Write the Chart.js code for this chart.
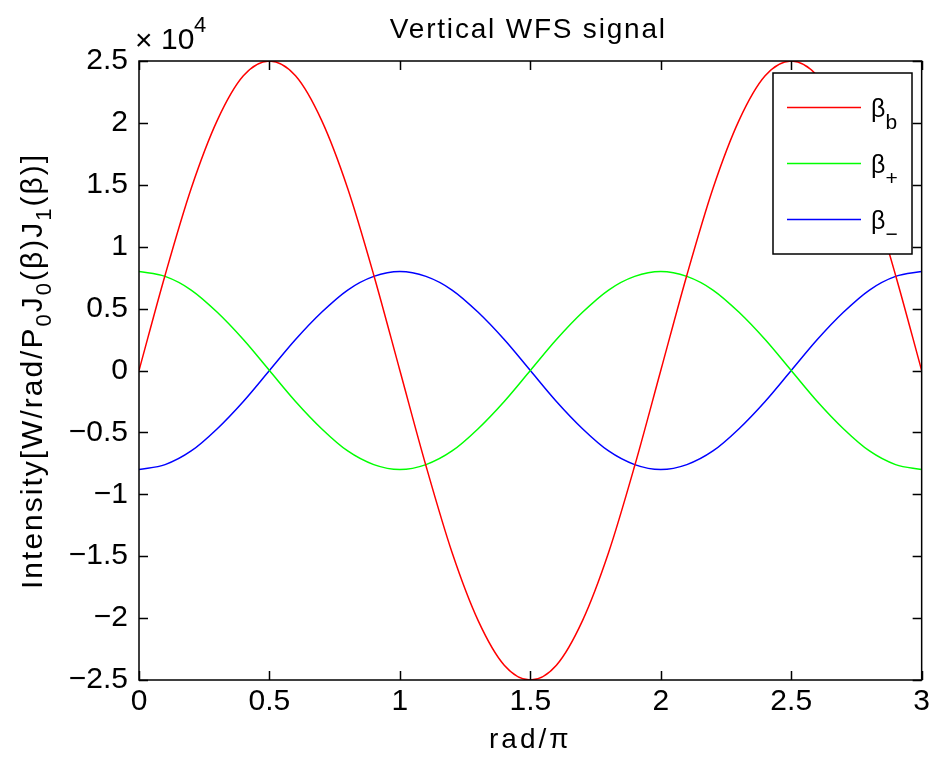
<!DOCTYPE html>
<html>
<head>
<meta charset="utf-8">
<script src="https://cdn.jsdelivr.net/npm/chart.js@4.4.0/dist/chart.umd.min.js"></script>
<style>
html, body { margin: 0; padding: 0; background: #fff; }
</style>
</head>
<body>
<canvas id="c" width="934" height="763"></canvas>
<script>
// x positions (rad/pi)
const xPos = [0, 0.1, 0.2, 0.3, 0.4, 0.5, 0.6, 0.7, 0.8, 0.9,
    1, 1.1, 1.2, 1.3, 1.4, 1.5, 1.6, 1.7, 1.8, 1.9,
    2, 2.1, 2.2, 2.3, 2.4, 2.5, 2.6, 2.7, 2.8, 2.9, 3]

// beta_b (red)
const betaB = [0, 7700, 14700, 20200, 23800, 25000, 23800, 20200, 14700, 7700,
    0, -7700, -14700, -20200, -23800, -25000, -23800, -20200, -14700, -7700,
    0, 7700, 14700, 20200, 23800, 25000, 23800, 20200, 14700, 7700, 0]

// beta_+ (green)
const betaPlus = [8000, 7600, 6500, 4700, 2500, 0, -2500, -4700, -6500, -7600,
    -8000, -7600, -6500, -4700, -2500, 0, 2500, 4700, 6500, 7600,
    8000, 7600, 6500, 4700, 2500, 0, -2500, -4700, -6500, -7600, -8000]

// beta_- (blue)
const betaMinus = [-8000, -7600, -6500, -4700, -2500, 0, 2500, 4700, 6500, 7600,
    8000, 7600, 6500, 4700, 2500, 0, -2500, -4700, -6500, -7600,
    -8000, -7600, -6500, -4700, -2500, 0, 2500, 4700, 6500, 7600, 8000]

const seriesNames = ['β_b', 'β_+', 'β_−']
const seriesColors = ['#ff0000', '#00ff00', '#0000ff']
const xTicks = [0, 0.5, 1, 1.5, 2, 2.5, 3]
const yTicks = [-25000, -20000, -15000, -10000, -5000, 0, 5000, 10000, 15000, 20000, 25000]

const FONT = '"Liberation Sans", Arial, sans-serif'

// draw text made of [text, isSub] parts, starting at x
function drawParts(ctx, parts, x, y, size, subSize, subDy, spacing) {
    let cx = x
    parts.forEach(p => {
        ctx.font = (p[1] ? subSize : size) + 'px ' + FONT
        ctx.letterSpacing = spacing + 'px'
        ctx.fillText(p[0], cx, p[1] ? y + subDy : y)
        cx += ctx.measureText(p[0]).width
    })
    return cx - x
}
function measureParts(ctx, parts, size, subSize, spacing) {
    let w = 0
    parts.forEach(p => {
        ctx.font = (p[1] ? subSize : size) + 'px ' + FONT
        ctx.letterSpacing = spacing + 'px'
        w += ctx.measureText(p[0]).width
    })
    return w
}

const matlabFrame = {
    id: 'matlabFrame',
    afterDatasetsDraw(chart) {
        const ctx = chart.ctx, a = chart.chartArea
        const xs = chart.scales.x, ys = chart.scales.y
        ctx.save()
        ctx.strokeStyle = '#000'
        ctx.lineWidth = 1.5
        ctx.beginPath()
        xs.ticks.forEach(t => {
            const px = Math.round(xs.getPixelForValue(t.value)) + 0.5
            ctx.moveTo(px, a.bottom); ctx.lineTo(px, a.bottom - 9)
            ctx.moveTo(px, a.top); ctx.lineTo(px, a.top + 9)
        })
        ys.ticks.forEach(t => {
            const py = Math.round(ys.getPixelForValue(t.value)) + 0.5
            ctx.moveTo(a.left, py); ctx.lineTo(a.left + 9, py)
            ctx.moveTo(a.right, py); ctx.lineTo(a.right - 9, py)
        })
        ctx.stroke()
        ctx.strokeRect(a.left, a.top, a.right - a.left, a.bottom - a.top)
        ctx.restore()
    },
    afterDraw(chart) {
        const ctx = chart.ctx, a = chart.chartArea
        ctx.save()
        ctx.fillStyle = '#000'
        ctx.textBaseline = 'alphabetic'

        // title
        ctx.font = '28px ' + FONT
        ctx.letterSpacing = '1.8px'
        ctx.textAlign = 'center'
        ctx.fillText('Vertical WFS signal', (a.left + a.right) / 2 - 2, 38)

        // x axis title
        ctx.font = '28px ' + FONT
        ctx.letterSpacing = '3px'
        ctx.fillText('rad/π', (a.left + a.right) / 2, 748)

        // exponent
        ctx.textAlign = 'left'
        ctx.letterSpacing = '0px'
        ctx.font = '30px ' + FONT
        ctx.fillText('×', 135, 50)
        ctx.fillText('10', 161, 49)
        ctx.font = '22px ' + FONT
        ctx.fillText('4', 194, 32)

        // y axis title
        const yParts = [['Intensity[W/rad/P', 0], ['0', 1], ['J', 0], ['0', 1], ['(β)J', 0], ['1', 1], ['(β)]', 0]]
        ctx.translate(42, 371)
        ctx.rotate(-Math.PI / 2)
        const w = measureParts(ctx, yParts, 30, 22, 2)
        drawParts(ctx, yParts, -w / 2, 0, 30, 22, 9, 2)
        ctx.setTransform(1, 0, 0, 1, 0, 0)

        // legend box
        const lx = 773, ly = 73, lw = 139, lh = 181
        ctx.fillStyle = '#fff'
        ctx.fillRect(lx, ly, lw, lh)
        ctx.strokeStyle = '#000'
        ctx.lineWidth = 1.5
        ctx.strokeRect(lx, ly, lw, lh)
        chart.data.datasets.forEach((ds, i) => {
            const y = 107 + i * 56
            ctx.strokeStyle = ds.borderColor
            ctx.lineWidth = 1.5
            ctx.beginPath()
            ctx.moveTo(787, y + 0.5); ctx.lineTo(861, y + 0.5)
            ctx.stroke()
            const [base, sub] = ds.label.split('_')
            ctx.fillStyle = '#000'
            drawParts(ctx, [[base, 0], [sub, 1]], 871, y + 10, 25, 21, 12, 0)
        })
        ctx.restore()
    }
}

const datasets = [betaB, betaPlus, betaMinus].map((vals, i) => ({
    label: seriesNames[i],
    data: xPos.map((x, j) => ({x: x, y: vals[j]})),
    borderColor: seriesColors[i],
    borderWidth: 1.5,
    pointRadius: 0,
    fill: false,
    cubicInterpolationMode: 'monotone'
}))

new Chart(document.getElementById('c'), {
    type: 'line',
    data: {datasets: datasets},
    options: {
        responsive: false,
        animation: false,
        layout: {padding: {left: 0, top: 61, right: 12, bottom: 0}},
        plugins: {
            legend: {display: false},
            tooltip: {enabled: false},
            title: {display: false}
        },
        scales: {
            x: {
                type: 'linear',
                min: 0,
                max: 3,
                afterBuildTicks: s => { s.ticks = xTicks.map(v => ({value: v})) },
                afterFit: s => { s.height = 83 },
                grid: {display: false, drawTicks: false},
                border: {display: false},
                ticks: {
                    color: '#000',
                    font: {family: FONT, size: 30},
                    padding: 4,
                    maxRotation: 0,
                    callback: v => String(v)
                }
            },
            y: {
                type: 'linear',
                min: -25000,
                max: 25000,
                afterBuildTicks: s => { s.ticks = yTicks.map(v => ({value: v})) },
                afterFit: s => { s.width = 139 },
                grid: {display: false, drawTicks: false},
                border: {display: false},
                ticks: {
                    color: '#000',
                    font: {family: FONT, size: 30},
                    padding: 11,
                    callback: v => String(v / 10000).replace('-', '\u2212')
                }
            }
        }
    },
    plugins: [matlabFrame]
})
</script>
</body>
</html>
